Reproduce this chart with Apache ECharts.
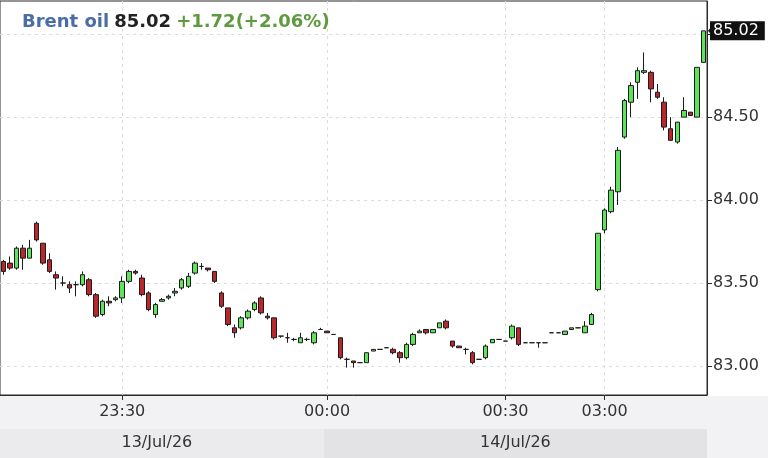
<!DOCTYPE html>
<html><head><meta charset="utf-8">
<script src="https://cdn.jsdelivr.net/npm/echarts@6/dist/echarts.min.js"></script>
<style>html,body{margin:0;padding:0;background:#fff}#c{width:768px;height:458px}</style>
</head><body><div id="c"></div>
<script>
// ---- data (1-minute candles) ----
const opens  = [83.63,83.62,83.59,83.71,83.65,83.86,83.74,83.64,83.55,83.50,83.49,83.49,83.49,83.52,83.43,83.31,83.39,83.40,83.41,83.51,83.57,83.53,83.44,83.31,83.39,83.41,83.44,83.47,83.48,83.56,83.60,83.59,83.57,83.44,83.35,83.23,83.23,83.29,83.34,83.41,83.30,83.29,83.18,83.17,83.16,83.14,83.16,83.14,83.22,83.21,83.19,83.17,83.04,83.03,83.02,83.02,83.09,83.10,83.11,83.10,83.08,83.05,83.13,83.20,83.22,83.20,83.23,83.27,83.15,83.12,83.10,83.08,83.04,83.05,83.14,83.16,83.15,83.17,83.23,83.14,83.14,83.14,83.14,83.20,83.20,83.19,83.22,83.23,83.20,83.25,83.46,83.82,83.93,84.05,84.38,84.59,84.71,84.77,84.77,84.65,84.59,84.43,84.35,84.50,84.53,84.50,84.83];
const closes = [83.57,83.59,83.71,83.65,83.71,83.76,83.62,83.57,83.53,83.50,83.47,83.49,83.55,83.43,83.30,83.39,83.38,83.41,83.51,83.57,83.56,83.43,83.34,83.37,83.40,83.42,83.45,83.52,83.54,83.62,83.60,83.58,83.51,83.36,83.25,83.20,83.29,83.33,83.38,83.32,83.29,83.17,83.18,83.17,83.16,83.17,83.16,83.20,83.22,83.20,83.19,83.05,83.04,83.02,83.02,83.08,83.10,83.10,83.11,83.08,83.05,83.13,83.19,83.21,83.20,83.22,83.26,83.23,83.12,83.11,83.10,83.02,83.04,83.12,83.16,83.16,83.15,83.24,83.13,83.14,83.14,83.14,83.14,83.20,83.20,83.21,83.23,83.23,83.24,83.31,83.80,83.94,84.06,84.30,84.60,84.69,84.78,84.78,84.67,84.62,84.44,84.36,84.47,84.54,84.51,84.80,85.02];
const lows   = [83.55,83.58,83.58,83.58,83.65,83.75,83.61,83.56,83.46,83.48,83.44,83.42,83.48,83.42,83.29,83.30,83.36,83.39,83.38,83.50,83.55,83.42,83.33,83.29,83.39,83.40,83.42,83.46,83.47,83.55,83.58,83.57,83.50,83.35,83.24,83.17,83.22,83.28,83.33,83.31,83.28,83.16,83.17,83.14,83.15,83.14,83.15,83.13,83.22,83.20,83.19,83.04,82.99,82.99,83.02,83.02,83.09,83.10,83.11,83.07,83.02,83.04,83.12,83.20,83.19,83.20,83.23,83.22,83.11,83.11,83.07,83.01,83.04,83.04,83.14,83.16,83.15,83.16,83.12,83.14,83.14,83.11,83.14,83.20,83.20,83.19,83.22,83.23,83.20,83.25,83.45,83.80,83.92,83.97,84.37,84.50,84.61,84.76,84.59,84.61,84.42,84.36,84.34,84.50,84.51,84.50,84.83];
const highs  = [83.64,83.66,83.72,83.73,83.76,83.87,83.74,83.68,83.57,83.54,83.51,83.51,83.57,83.53,83.44,83.40,83.42,83.42,83.54,83.58,83.58,83.55,83.45,83.38,83.41,83.43,83.47,83.53,83.56,83.63,83.62,83.59,83.57,83.45,83.35,83.25,83.30,83.34,83.39,83.42,83.32,83.29,83.18,83.20,83.17,83.20,83.17,83.21,83.23,83.21,83.19,83.17,83.05,83.03,83.02,83.08,83.10,83.10,83.11,83.11,83.09,83.14,83.20,83.22,83.22,83.22,83.26,83.28,83.15,83.12,83.11,83.09,83.04,83.13,83.16,83.16,83.15,83.25,83.23,83.14,83.14,83.14,83.14,83.20,83.20,83.21,83.23,83.23,83.27,83.32,83.80,83.95,84.08,84.32,84.61,84.71,84.80,84.89,84.78,84.70,84.62,84.50,84.47,84.62,84.53,84.80,85.02];
const tickIndex  = [18, 49, 76, 91];
const tickLabels = ['23:30', '00:00', '00:30', '03:00'];
const dateLabels = ['13/Jul/26', '14/Jul/26'];
const dateChangeIndex = 49;          // first candle of 14/Jul/26
const yTicks     = [83, 83.5, 84, 84.5, 85];
const yLabels    = [83, 83.5, 84, 84.5];
const titleName  = 'Brent oil';
const lastPrice  = 85.02;
const change     = 1.72;
const changePct  = 2.06;

// ---- build ----
const categories = opens.map((_, i) => String(i));
const candles = opens.map((o, i) => [o, closes[i], lows[i], highs[i]]);
const FONT = 'DejaVu Sans';
const GRID = {left: 0, right: 61, top: 1, bottom: 63};
const tickSet = new Set(tickIndex);

const chart = echarts.init(document.getElementById('c'), null, {renderer: 'canvas'});
const option = {
  animation: false,
  backgroundColor: '#ffffff',
  title: {
    left: 17, top: 8,
    text: '{a|' + titleName + '} {b|' + lastPrice.toFixed(2) + '} {c|+' + change.toFixed(2) + '(+' + changePct.toFixed(2) + '%)}',
    textStyle: {
      rich: {
        a: {fontFamily: FONT, fontSize: 18, fontWeight: 'bold', color: '#4a6da6'},
        b: {fontFamily: FONT, fontSize: 18, fontWeight: 'bold', color: '#222222'},
        c: {fontFamily: FONT, fontSize: 18, fontWeight: 'bold', color: '#5e9a3e'}
      }
    }
  },
  grid: Object.assign({show: true, borderColor: '#2a2a2a', borderWidth: 1, backgroundColor: '#ffffff'}, GRID),
  xAxis: {
    type: 'category',
    data: categories,
    boundaryGap: true,
    axisLine: {show: true, lineStyle: {color: '#2a2a2a'}},
    axisTick: {show: true, alignWithLabel: true, length: 5, interval: (i) => tickSet.has(i), lineStyle: {color: '#2a2a2a'}},
    axisLabel: {
      interval: (i) => tickSet.has(i),
      formatter: (v, i) => { const k = tickIndex.indexOf(i); return k >= 0 ? tickLabels[k] : ''; },
      fontFamily: FONT, fontSize: 16, color: '#333333', margin: 9
    },
    splitLine: {show: true, alignWithLabel: true, interval: (i) => tickSet.has(i), lineStyle: {color: '#dcdcdc', type: [3, 4]}}
  },
  yAxis: [{
    type: 'value',
    position: 'right',
    min: 82.825, max: 85.2,
    axisLine: {show: true, lineStyle: {color: '#2a2a2a'}},
    axisTick: {show: true, length: 5, customValues: yTicks, lineStyle: {color: '#2a2a2a'}},
    axisLabel: {customValues: yLabels, formatter: (v) => Number(v).toFixed(2), fontFamily: FONT, fontSize: 16, color: '#333333', margin: 6},
    splitLine: {show: true, lineStyle: {color: '#dcdcdc', type: [3, 4]}}
  }, {
    type: 'value',
    position: 'right',
    min: 82.825, max: 85.2,
    axisLine: {show: false}, axisTick: {show: false}, splitLine: {show: false},
    axisLabel: {customValues: [lastPrice], formatter: (v) => Number(v).toFixed(2), fontFamily: FONT, fontSize: 16,
      color: '#ffffff', backgroundColor: '#111111', padding: [2, 6, 1, 3], margin: 3}
  }],
  series: [{
    type: 'candlestick',
    data: candles,
    barWidth: 5,
    itemStyle: {
      color: '#5fe25c', color0: '#b8272b',
      borderColor: '#1c1c1c', borderColor0: '#1c1c1c', borderColorDoji: '#1c1c1c', borderWidth: 1
    }
  }]
};
chart.setOption(option);

// decorations: bottom bands, date labels, price tag arrow
const px = (i) => chart.convertToPixel({xAxisIndex: 0}, i);
const half = (px(1) - px(0)) / 2;
const gLeft = GRID.left, gRight = 768 - GRID.right, gBottom = 458 - GRID.bottom;
const bx = px(dateChangeIndex) - half;
const py = chart.convertToPixel({yAxisIndex: 0}, lastPrice);
chart.setOption({
  graphic: [
    {type: 'rect', silent: true, z: -10, shape: {x: 0, y: gBottom + 1, width: 768, height: 458 - gBottom}, style: {fill: '#f2f2f4'}},
    {type: 'rect', silent: true, z: -9, shape: {x: gLeft, y: 429, width: bx - gLeft, height: 29}, style: {fill: '#ebebed'}},
    {type: 'rect', silent: true, z: -9, shape: {x: bx, y: 429, width: gRight - bx, height: 29}, style: {fill: '#e3e3e5'}},
    {type: 'text', silent: true, x: (gLeft + bx) / 2 - 5, y: 443, style: {text: dateLabels[0], font: '16px "DejaVu Sans"', fill: '#333', align: 'center', verticalAlign: 'middle'}},
    {type: 'text', silent: true, x: (bx + gRight) / 2, y: 443, style: {text: dateLabels[1], font: '16px "DejaVu Sans"', fill: '#333', align: 'center', verticalAlign: 'middle'}},
    {type: 'polygon', silent: true, z: 10, shape: {points: [[gRight + 1, py], [gRight + 6, py - 6], [gRight + 6, py + 6]]}, style: {fill: '#111'}}
  ]
});
</script></body></html>
